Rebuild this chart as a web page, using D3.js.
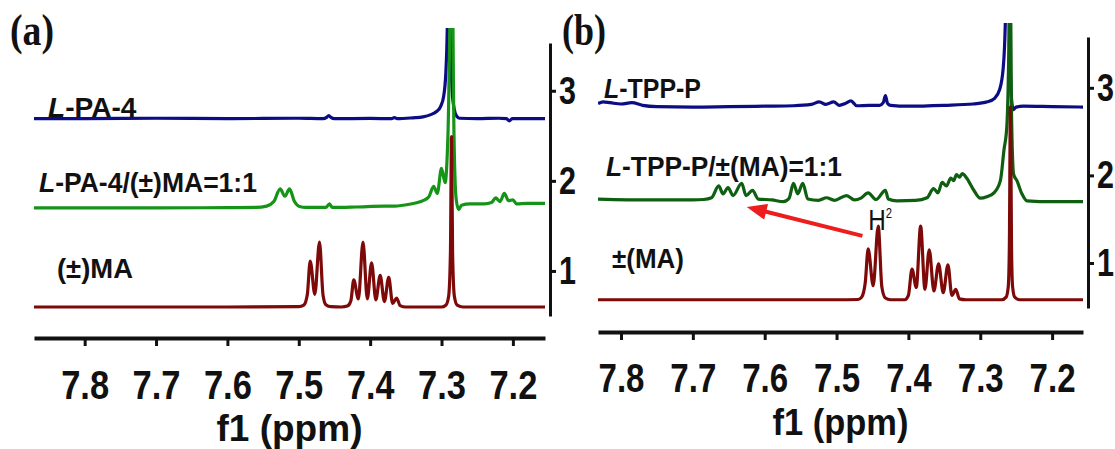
<!DOCTYPE html>
<html>
<head>
<meta charset="utf-8">
<script src="https://cdn.jsdelivr.net/npm/d3@7"></script>
<style>
  body { margin: 0; background: #fff; }
  svg { display: block; }
</style>
</head>
<body>
<script>
// axis ticks
var ppmTicks = [7.8, 7.7, 7.6, 7.5, 7.4, 7.3, 7.2];
var ppmMinor = [7.85, 7.75, 7.65, 7.55, 7.45, 7.35, 7.25, 7.15];
var stackTicks = [1, 2, 3];

// panel (a) spectra, [ppm, intensity]
var aBlue = [[7.871,0],[7.80,0],[7.70,0.005],[7.60,0],[7.50,0.005],[7.466,0],[7.461,0.015],[7.458,0.035],[7.455,0.015],[7.450,0],
  [7.40,0.003],[7.370,0],[7.366,0.012],[7.362,0],[7.34,0.01],[7.326,0.02],[7.315,0.045],[7.307,0.08],[7.301,0.14],[7.297,0.25],
  [7.294,0.5],[7.2915,1.2],[7.2895,3.0],[7.2875,1.0],[7.285,0.3],[7.282,0.1],[7.279,0.03],[7.275,0.005],[7.25,0],[7.22,0.005],
  [7.209,0],[7.205,-0.025],[7.201,0],[7.155,0]];
var aGreen = [[7.871,0],[7.70,0],[7.60,0.003],[7.56,0.005],[7.545,0.02],[7.535,0.07],[7.526,0.21],[7.5195,0.13],[7.513,0.21],
  [7.506,0.07],[7.499,0.015],[7.49,0.005],[7.462,0.005],[7.457,0.045],[7.453,0.005],[7.42,0.01],[7.38,0.02],[7.366,0.02],
  [7.345,0.04],[7.326,0.08],[7.318,0.12],[7.311,0.24],[7.306,0.16],[7.300,0.44],[7.295,0.28],[7.291,0.8],[7.2855,3.0],
  [7.2825,0.8],[7.2795,0.1],[7.276,-0.02],[7.272,0.03],[7.26,0.045],[7.24,0.045],[7.23,0.06],[7.224,0.11],[7.218,0.07],
  [7.212,0.16],[7.206,0.08],[7.200,0.09],[7.195,0.045],[7.18,0.05],[7.155,0.05]];
var aRed = [[7.871,0],[7.60,0],[7.50,0.003],[7.493,0.02],[7.488,0.14],[7.484,0.51],[7.4775,0.14],[7.471,0.72],[7.466,0.13],
  [7.462,0.025],[7.455,0.003],[7.44,0],[7.432,0.01],[7.427,0.07],[7.423,0.30],[7.4165,0.09],[7.410,0.72],[7.404,0.09],
  [7.398,0.49],[7.392,0.08],[7.386,0.35],[7.380,0.06],[7.374,0.33],[7.3685,0.04],[7.363,0.10],[7.358,0.015],[7.35,0],
  [7.30,0],[7.294,0.02],[7.290,0.12],[7.2875,0.6],[7.286,1.89],[7.2845,0.6],[7.282,0.12],[7.278,0.02],[7.27,0],[7.155,0]];
var aOffsets = [2.69, 1.70, 0.60];
var aNames = ["L-PA-4", "L-PA-4/(±)MA=1:1", "(±)MA"];

// panel (b) spectra, [ppm, intensity]
var bBlue = [[7.832,0.04],[7.825,0.06],[7.815,0.05],[7.80,0.035],[7.785,0.05],[7.77,0.02],[7.75,0.005],[7.70,0],[7.65,0.005],
  [7.60,0.01],[7.56,0.015],[7.535,0.03],[7.524,0.06],[7.515,0.03],[7.504,0.06],[7.496,0.02],[7.488,0.04],[7.480,0.07],
  [7.472,0.015],[7.455,0.02],[7.440,0.02],[7.435,0.05],[7.432,0.13],[7.429,0.04],[7.425,0.02],[7.40,0.01],[7.35,0.02],
  [7.31,0.035],[7.29,0.06],[7.28,0.1],[7.273,0.2],[7.268,0.45],[7.265,1.0],[7.262,3.0],[7.259,0.8],[7.257,0.15],
  [7.254,-0.03],[7.25,0],[7.24,0.01],[7.20,0.005],[7.157,0]];
var bGreen = [[7.832,0.02],[7.76,0.01],[7.70,0.01],[7.685,0.015],[7.674,0.035],[7.664,0.17],[7.658,0.08],[7.651,0.15],
  [7.644,0.06],[7.632,0.20],[7.626,0.06],[7.617,0.12],[7.609,0.02],[7.59,0.01],[7.574,-0.01],[7.566,0.03],[7.560,0.20],
  [7.554,0.08],[7.547,0.20],[7.540,0.02],[7.525,0.005],[7.514,0.035],[7.503,0.005],[7.486,0.06],[7.475,0.01],[7.466,0.03],
  [7.456,0.09],[7.445,0.015],[7.432,0.12],[7.428,0.02],[7.416,0],[7.39,0.005],[7.374,0.035],[7.365,0.14],[7.359,0.09],
  [7.353,0.21],[7.347,0.17],[7.341,0.26],[7.337,0.23],[7.333,0.30],[7.329,0.27],[7.325,0.31],[7.319,0.26],[7.309,0.12],
  [7.300,0.03],[7.290,0.05],[7.281,0.09],[7.272,0.23],[7.267,0.58],[7.263,0.85],[7.2605,1.6],[7.2585,3.0],[7.2565,1.0],
  [7.2535,0.3],[7.249,0.23],[7.242,0.08],[7.235,0],[7.20,-0.01],[7.157,-0.01]];
var bRed = [[7.832,0],[7.50,0],[7.47,0.003],[7.465,0.03],[7.46,0.2],[7.456,0.58],[7.449,0.16],[7.442,0.84],[7.437,0.15],
  [7.432,0.02],[7.425,0],[7.405,0],[7.400,0.05],[7.395,0.35],[7.389,0.14],[7.383,0.84],[7.377,0.12],[7.371,0.57],
  [7.3645,0.1],[7.358,0.41],[7.3515,0.08],[7.345,0.40],[7.3395,0.05],[7.334,0.12],[7.329,0.01],[7.32,0],[7.27,0],
  [7.264,0.03],[7.261,0.15],[7.2595,0.6],[7.258,2.2],[7.2565,0.6],[7.255,0.15],[7.252,0.03],[7.245,0],[7.157,0]];
var bOffsets = [2.78, 1.71, 0.58];
var bNames = ["L-TPP-P", "L-TPP-P/±(MA)=1:1", "±(MA)"];

// H2 annotation in panel (b): arrow from the H2 doublet to the shifted signal
var arrowPpm = [7.464, 7.625];
var arrowStack = [1.31, 1.64];
var h2Pos = [7.456, 1.38];

var sans = "'Liberation Sans', Arial, sans-serif";
var serif = "'Liberation Serif', 'Times New Roman', serif";

var svg = d3.select("body").append("svg")
  .attr("width", 1115)
  .attr("height", 449);

// squeeze a text element to a given width around its anchor
function fitText(t, w) {
  var bw = t.node().getBBox().width;
  var ax = +t.attr("x") || 0;
  t.attr("transform", `translate(${ax},0) scale(${w / bw},1) translate(${-ax},0)`);
}

function addLabel(str, x, y, size, w) {
  var t = svg.append("text")
    .attr("x", x).attr("y", y)
    .attr("font-family", sans)
    .attr("font-weight", "bold")
    .attr("font-size", size)
    .attr("fill", "#111");
  if (str.indexOf("L-") === 0) {
    t.append("tspan").attr("font-style", "italic").text("L");
    t.append("tspan").text(str.slice(1));
  } else {
    t.text(str);
  }
  fitText(t, w);
  return t;
}

function drawPanel(p, spectra, offsets, names, colors) {
  var x = d3.scaleLinear().domain(p.ppm).range([p.left, p.right]);
  var y = d3.scaleLinear().domain(p.stack).range([p.bottom, p.top]);

  var clipId = "clip-" + p.id;
  svg.append("clipPath").attr("id", clipId)
    .append("rect")
    .attr("x", p.left).attr("y", p.clipTop)
    .attr("width", p.right - p.left).attr("height", p.axisY - p.clipTop);

  var plot = svg.append("g").attr("clip-path", `url(#${clipId})`);
  var line = d3.line().curve(d3.curveMonotoneX);

  spectra.forEach(function (s, i) {
    plot.append("path")
      .attr("d", line(s.map(d => [x(d[0]), y(offsets[i] + d[1])])))
      .attr("fill", "none")
      .attr("stroke", colors[i])
      .attr("stroke-width", 3.2)
      .attr("stroke-linejoin", "round");
  });

  // bottom ppm axis
  var axisG = svg.append("g").attr("transform", `translate(0,${p.axisY})`);
  axisG.call(d3.axisBottom(x).tickValues(ppmMinor.filter(v => x(v) >= p.left && x(v) <= p.right))
    .tickSize(5).tickSizeOuter(0).tickFormat(""));
  axisG.call(d3.axisBottom(x).tickValues(ppmTicks).tickSize(8).tickSizeOuter(0).tickFormat(d3.format(".1f")));
  axisG.select(".domain").attr("stroke-width", 4).attr("stroke", "#111");
  axisG.selectAll(".tick line").attr("stroke-width", 3).attr("stroke", "#111");
  axisG.selectAll(".tick text")
    .attr("dy", null)
    .attr("y", p.tickBase - p.axisY)
    .attr("font-family", sans)
    .attr("font-weight", "bold")
    .attr("font-size", 40)
    .attr("fill", "#111")
    .each(function () { fitText(d3.select(this), p.tickW); });

  var title = svg.append("text")
    .attr("x", (p.left + p.right) / 2).attr("y", p.titleBase)
    .attr("text-anchor", "middle")
    .attr("font-family", sans)
    .attr("font-weight", "bold")
    .attr("font-size", 37)
    .attr("fill", "#111")
    .text("f1 (ppm)");
  fitText(title, p.titleW);

  // stack axis on the right
  var rAxis = svg.append("g").attr("transform", `translate(${p.axisX},0)`)
    .call(d3.axisRight(y).tickValues(stackTicks).tickSize(6).tickSizeOuter(0).tickPadding(3)
      .tickFormat(d3.format("d")));
  rAxis.select(".domain").attr("stroke-width", 3).attr("stroke", "#111");
  rAxis.selectAll(".tick line").attr("stroke-width", 3).attr("stroke", "#111");
  rAxis.selectAll(".tick text")
    .attr("font-family", sans)
    .attr("font-weight", "bold")
    .attr("font-size", 39)
    .attr("fill", "#111")
    .each(function () { fitText(d3.select(this), 17); });

  // panel tag
  var tag = svg.append("text")
    .attr("x", p.tagX).attr("y", 45)
    .attr("font-family", serif)
    .attr("font-weight", "bold")
    .attr("font-size", 44)
    .attr("fill", "#111")
    .text(p.tag);
  fitText(tag, 44);

  names.forEach(function (n, i) {
    addLabel(n, p.labels[i][0], p.labels[i][1], 28, p.labels[i][2]);
  });

  return { x: x, y: y };
}

var panelA = drawPanel({
  id: "a", tag: "(a)", tagX: 10,
  ppm: [7.871, 7.155], left: 34, right: 545,
  stack: [0.5, 3.53], bottom: 316, top: 43,
  axisY: 338, axisX: 550, clipTop: 28,
  tickBase: 399, tickW: 48, titleBase: 441, titleW: 146,
  labels: [[48, 117, 89], [39, 192, 218], [57, 278, 76]]
}, [aBlue, aGreen, aRed], aOffsets, aNames, ["#0c0c84", "#169418", "#7d0909"]);

var panelB = drawPanel({
  id: "b", tag: "(b)", tagX: 562,
  ppm: [7.832, 7.157], left: 598, right: 1083,
  stack: [0.486, 3.58], bottom: 308, top: 37,
  axisY: 332, axisX: 1088, clipTop: 23,
  tickBase: 392, tickW: 46, titleBase: 435, titleW: 136,
  labels: [[604, 98, 97], [606, 176, 236], [612, 268, 72]]
}, [bBlue, bGreen, bRed], bOffsets, bNames, ["#0c0c84", "#0e5f10", "#7d0909"]);

// red arrow pointing to the shifted H2 signal
var ax0 = panelB.x(arrowPpm[0]), ay0 = panelB.y(arrowStack[0]);
var ax1 = panelB.x(arrowPpm[1]), ay1 = panelB.y(arrowStack[1]);
var ang = Math.atan2(ay1 - ay0, ax1 - ax0);
var headL = 20, headW = 8;
var bx = ax1 - headL * Math.cos(ang), by = ay1 - headL * Math.sin(ang);
svg.append("line")
  .attr("x1", ax0).attr("y1", ay0)
  .attr("x2", bx + 2 * Math.cos(ang)).attr("y2", by + 2 * Math.sin(ang))
  .attr("stroke", "#ee1d1d")
  .attr("stroke-width", 4);
svg.append("path")
  .attr("d", `M${ax1},${ay1}L${bx - headW * Math.sin(ang)},${by + headW * Math.cos(ang)}` +
    `L${bx + headW * Math.sin(ang)},${by - headW * Math.cos(ang)}Z`)
  .attr("fill", "#ee1d1d");

var h2 = svg.append("text")
  .attr("x", panelB.x(h2Pos[0])).attr("y", panelB.y(h2Pos[1]))
  .attr("font-family", sans)
  .attr("font-size", 30)
  .attr("fill", "#111")
  .text("H");
h2.append("tspan").attr("font-size", 14).attr("dy", -12).text("2");
fitText(h2, 24);
</script>
</body>
</html>
